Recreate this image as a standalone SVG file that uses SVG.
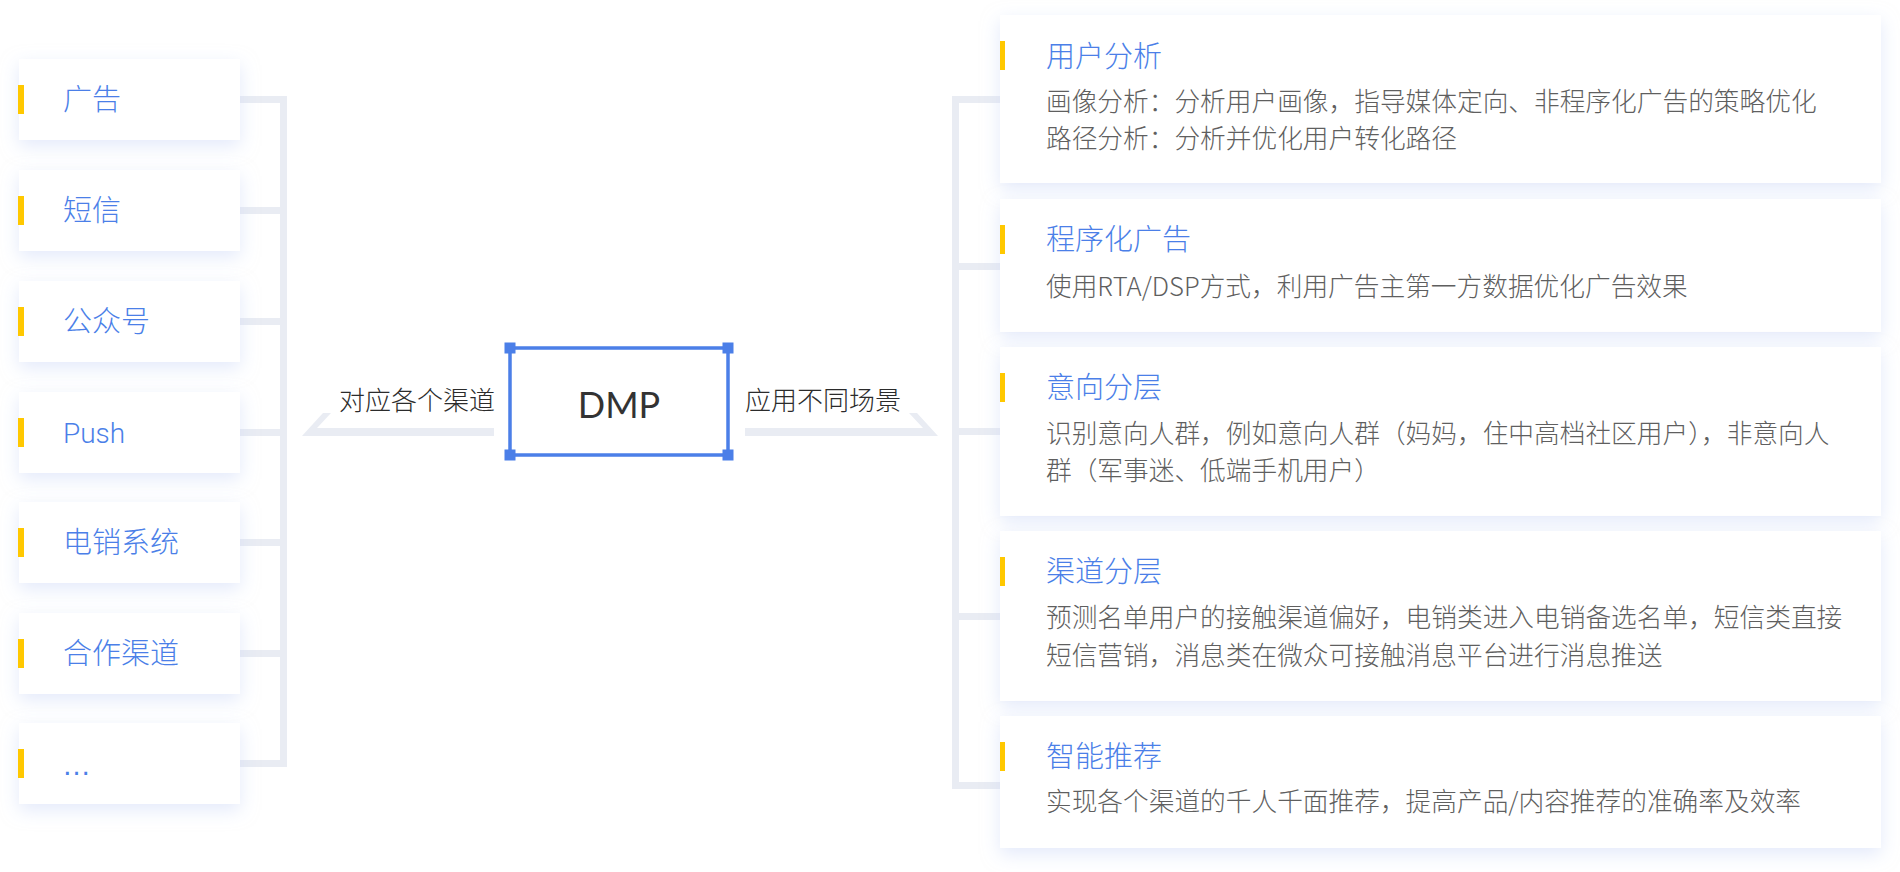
<svg xmlns="http://www.w3.org/2000/svg" width="1900" height="872" viewBox="0 0 1900 872">
<defs>
<filter id="sh" x="-10%" y="-30%" width="120%" height="170%">
<feDropShadow dx="0" dy="6" stdDeviation="9" flood-color="#c7d4f6" flood-opacity="0.5"/>
</filter>
<style>
.box{fill:#ffffff;filter:url(#sh)}
.bar{fill:#ffc800}
.ln{fill:#e9ecf3}
.t{font-family:"Noto Sans CJK SC","Noto Sans",sans-serif;font-size:29px;font-weight:300;fill:#4b7fe8}
.tl{font-family:Roboto,"Liberation Sans",sans-serif;font-size:28px;font-weight:300;fill:#4b7fe8}
.el{font-family:"Liberation Sans",sans-serif;font-size:29px;fill:#4b7fe8}
.b{font-family:"Noto Sans CJK SC","Noto Sans",sans-serif;font-size:25.7px;font-weight:300;fill:#5f5f5f}
.lab{font-family:"Noto Sans CJK SC","Noto Sans",sans-serif;font-size:26px;font-weight:300;fill:#2b2b2b}
.dmp{font-family:Lato,"Liberation Sans",sans-serif;font-size:36px;fill:#333333}
</style>
</defs>
<rect width="1900" height="872" fill="#ffffff"/>
<g id="connectors">
<rect class="ln" x="280" y="96" width="7" height="671"/>
<rect class="ln" x="240" y="96" width="47" height="7"/>
<rect class="ln" x="240" y="207" width="47" height="7"/>
<rect class="ln" x="240" y="318" width="47" height="7"/>
<rect class="ln" x="240" y="429" width="47" height="7"/>
<rect class="ln" x="240" y="539" width="47" height="7"/>
<rect class="ln" x="240" y="650" width="47" height="7"/>
<rect class="ln" x="240" y="760" width="47" height="7"/>
<rect class="ln" x="952" y="96" width="7" height="693"/>
<rect class="ln" x="952" y="96" width="50" height="7"/>
<rect class="ln" x="952" y="263" width="50" height="7"/>
<rect class="ln" x="952" y="428" width="50" height="7"/>
<rect class="ln" x="952" y="613" width="50" height="7"/>
<rect class="ln" x="952" y="782" width="50" height="7"/>
<polygon class="ln" points="302,436 494,436 494,428 317,428 331,413 323,413"/>
<polygon class="ln" points="938,436 745,436 745,428 923,428 909,413 917,413"/>
<text class="lab" x="339" y="410">对应各个渠道</text>
<text class="lab" x="745" y="410">应用不同场景</text>
</g>
<g id="dmp">
<rect x="510" y="348" width="218" height="107" fill="#ffffff" stroke="#4b7fe8" stroke-width="3.5"/>
<rect x="504.5" y="342.5" width="11" height="11" fill="#4b7fe8"/>
<rect x="722.5" y="342.5" width="11" height="11" fill="#4b7fe8"/>
<rect x="504.5" y="449.5" width="11" height="11" fill="#4b7fe8"/>
<rect x="722.5" y="449.5" width="11" height="11" fill="#4b7fe8"/>
<text class="dmp" x="619" y="418" text-anchor="middle">DMP</text>
</g>
<g id="ch1"><rect class="box" x="19" y="59" width="221" height="81"/><rect class="bar" x="18" y="85" width="6" height="29"/><text class="t" x="63" y="110">广告</text></g>
<g id="ch2"><rect class="box" x="19" y="170" width="221" height="81"/><rect class="bar" x="18" y="196" width="6" height="29"/><text class="t" x="63" y="221">短信</text></g>
<g id="ch3"><rect class="box" x="19" y="281" width="221" height="81"/><rect class="bar" x="18" y="307" width="6" height="29"/><text class="t" x="63" y="332">公众号</text></g>
<g id="ch4"><rect class="box" x="19" y="392" width="221" height="81"/><rect class="bar" x="18" y="418" width="6" height="29"/><text class="tl" x="63" y="443">Push</text></g>
<g id="ch5"><rect class="box" x="19" y="502" width="221" height="81"/><rect class="bar" x="18" y="528" width="6" height="29"/><text class="t" x="63" y="553">电销系统</text></g>
<g id="ch6"><rect class="box" x="19" y="613" width="221" height="81"/><rect class="bar" x="18" y="639" width="6" height="29"/><text class="t" x="63" y="664">合作渠道</text></g>
<g id="ch7"><rect class="box" x="19" y="723" width="221" height="81"/><rect class="bar" x="18" y="749" width="6" height="29"/><text class="el" x="62" y="775">…</text></g>
<g id="s1"><rect class="box" x="1000" y="15" width="881" height="168"/><rect class="bar" x="1000" y="41" width="5" height="29"/><text class="t" x="1046" y="67">用户分析</text><text class="b" x="1046" y="111">画像分析：分析用户画像，指导媒体定向、非程序化广告的策略优化</text><text class="b" x="1046" y="148">路径分析：分析并优化用户转化路径</text></g>
<g id="s2"><rect class="box" x="1000" y="199" width="881" height="133"/><rect class="bar" x="1000" y="225" width="5" height="29"/><text class="t" x="1046" y="250">程序化广告</text><text class="b" x="1046" y="296">使用RTA/DSP方式，利用广告主第一方数据优化广告效果</text></g>
<g id="s3"><rect class="box" x="1000" y="347" width="881" height="169"/><rect class="bar" x="1000" y="373" width="5" height="29"/><text class="t" x="1046" y="398">意向分层</text><text class="b" x="1046" y="443">识别意向人群，例如意向人群（妈妈，住中高档社区用户），非意向人</text><text class="b" x="1046" y="480">群（军事迷、低端手机用户）</text></g>
<g id="s4"><rect class="box" x="1000" y="531" width="881" height="170"/><rect class="bar" x="1000" y="557" width="5" height="29"/><text class="t" x="1046" y="582">渠道分层</text><text class="b" x="1046" y="627">预测名单用户的接触渠道偏好，电销类进入电销备选名单，短信类直接</text><text class="b" x="1046" y="665">短信营销，消息类在微众可接触消息平台进行消息推送</text></g>
<g id="s5"><rect class="box" x="1000" y="716" width="881" height="132"/><rect class="bar" x="1000" y="742" width="5" height="29"/><text class="t" x="1046" y="767">智能推荐</text><text class="b" x="1046" y="811">实现各个渠道的千人千面推荐，提高产品/内容推荐的准确率及效率</text></g>
</svg>
